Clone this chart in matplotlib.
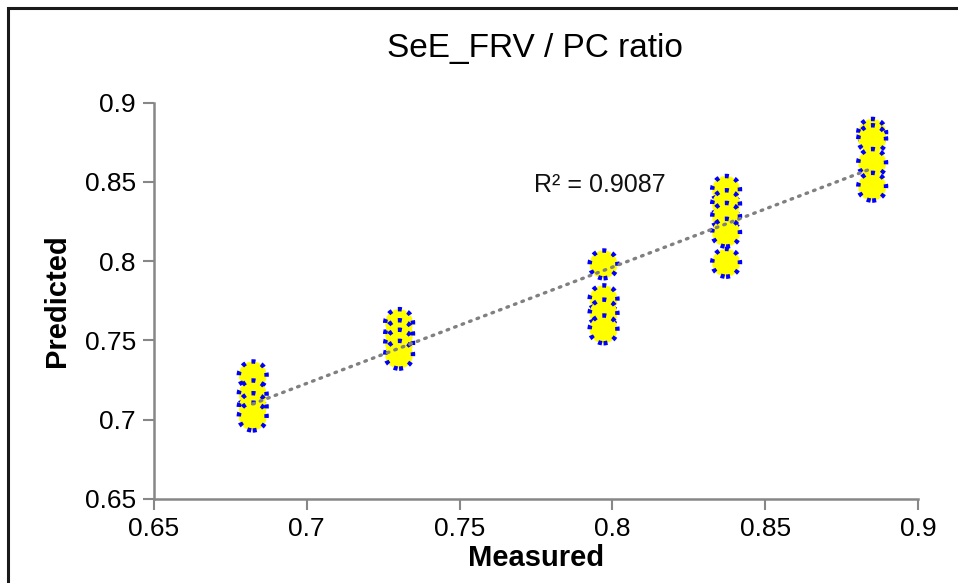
import numpy as np
import matplotlib
matplotlib.use("Agg")
import matplotlib.pyplot as plt
from matplotlib.patches import Rectangle

# Data
measured = [0.6823, 0.6823, 0.6823, 0.6823,
            0.7302, 0.7302, 0.7302, 0.7302,
            0.7971, 0.7971, 0.7971, 0.7971,
            0.8372, 0.8372, 0.8372, 0.8372, 0.8372,
            0.8850, 0.8850, 0.8850, 0.8850]
predicted = [0.728, 0.716, 0.708, 0.702,
             0.761, 0.754, 0.748, 0.741,
             0.798, 0.776, 0.767, 0.757,
             0.845, 0.836, 0.828, 0.818, 0.799,
             0.881, 0.877, 0.862, 0.847]
r2_label = "R² = 0.9087"
title = "SeE_FRV / PC ratio"
x_ticks = [0.65, 0.7, 0.75, 0.8, 0.85, 0.9]
y_ticks = [0.65, 0.7, 0.75, 0.8, 0.85, 0.9]
x_ticklabels = ["0.65", "0.7", "0.75", "0.8", "0.85", "0.9"]
y_ticklabels = ["0.65", "0.7", "0.75", "0.8", "0.85", "0.9"]

plt.rcParams['font.family'] = ['Liberation Sans', 'DejaVu Sans']

fig = plt.figure(figsize=(9.58, 5.83), dpi=100)
ax = fig.add_axes([154/958, 1-499/583, (918-154)/958, (499-102.7)/583])

x = np.array(measured)
y = np.array(predicted)
ax.scatter(x, y, s=400, facecolor='#ffff00', edgecolor='#0000ff',
           linewidths=3.2, linestyles=[(0, (0.9, 1.4))], zorder=3)

# linear trendline
coef = np.polyfit(x, y, 1)
xl = np.array([x.min(), x.max()])
ax.plot(xl, np.polyval(coef, xl), color='#808080', lw=2.4,
        linestyle=(0, (0.5, 1.9)), dash_capstyle='round', zorder=4)

ax.text(0.796, 0.848, r2_label, fontsize=18, ha='center', va='center', color='#111111')

ax.set_xlim(0.65, 0.9)
ax.set_ylim(0.65, 0.9)
ax.set_xticks(x_ticks)
ax.set_xticklabels(x_ticklabels)
ax.set_yticks(y_ticks)
ax.set_yticklabels(y_ticklabels)
ax.tick_params(axis='both', direction='out', length=8, width=1.5, color='#878787',
               labelsize=19, labelcolor='#000000')
ax.tick_params(axis='y', pad=5)
ax.tick_params(axis='x', pad=5)
for s in ['top', 'right']:
    ax.spines[s].set_visible(False)
for s in ['left', 'bottom']:
    ax.spines[s].set_color('#878787')
    ax.spines[s].set_linewidth(1.8)

ax.set_xlabel("Measured", fontsize=21, fontweight='bold', labelpad=2)
ax.set_ylabel("Predicted", fontsize=21, fontweight='bold', labelpad=10)
fig.text(535/958, 1-48/583, title, fontsize=24, ha='center', va='center')

# figure border
fig.patches.append(Rectangle((8/958, -0.1), 1.2, 1.1 - 8/583, transform=fig.transFigure,
                             fill=False, edgecolor='#1a1a1a', lw=2.2, clip_on=False))

fig.savefig("out.png", dpi=100)
